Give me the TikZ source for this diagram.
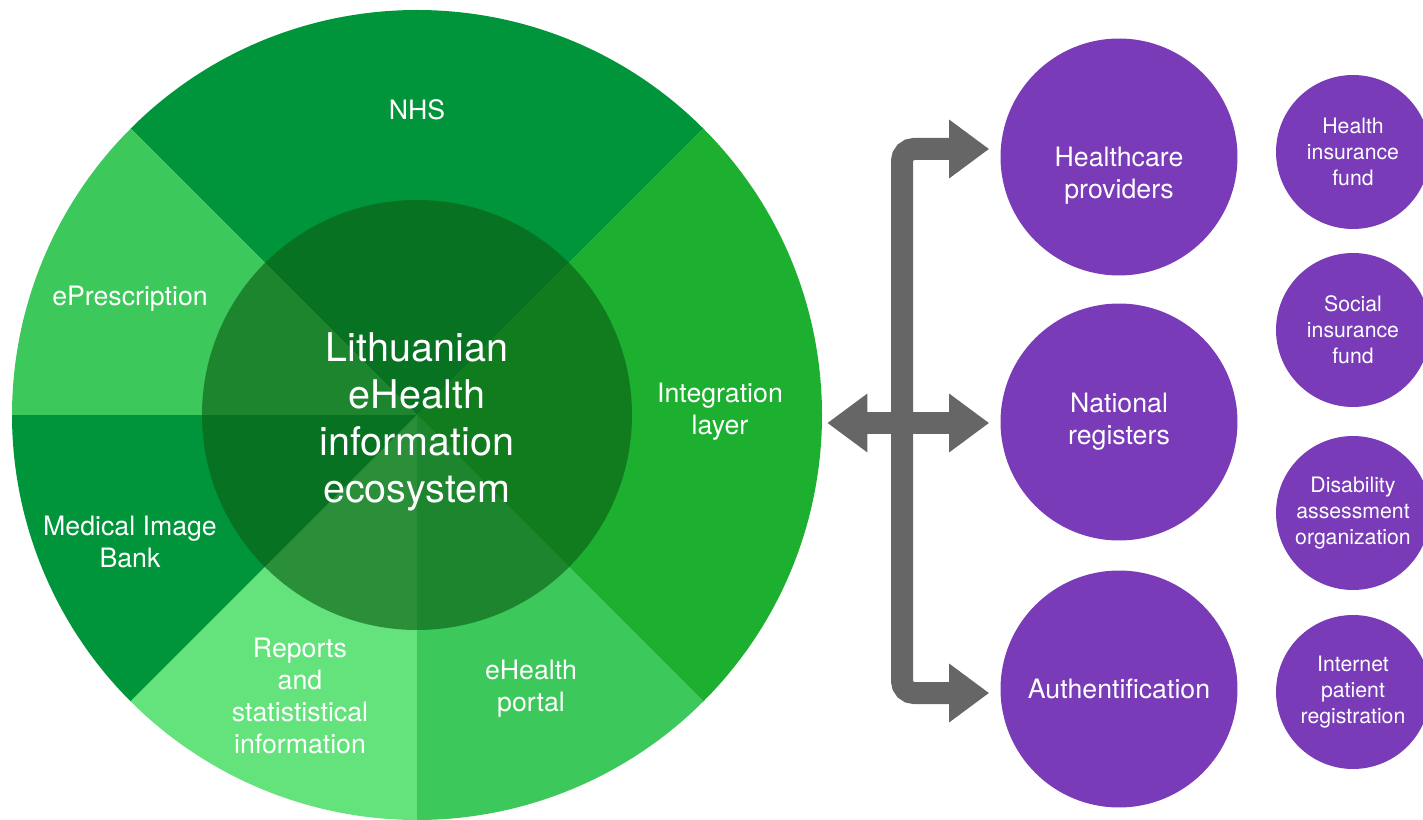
\documentclass[tikz,border=0pt]{standalone}
\usepackage{fontspec}
\setmainfont{TeX Gyre Heros}
\usepackage{tikz}
\usetikzlibrary{arrows.meta}
\definecolor{nhsgreen}{RGB}{0,149,58}
\definecolor{rxgreen}{RGB}{60,200,90}
\definecolor{repgreen}{RGB}{100,227,125}
\definecolor{intgreen}{RGB}{29,176,48}
\definecolor{coregreen}{RGB}{11,95,20}
\definecolor{regpurple}{RGB}{121,59,183}
\definecolor{arrowgray}{RGB}{102,102,102}

\begin{document}
\begin{tikzpicture}[x=0.02cm, y=0.02cm,
    lbl/.style={text=white, align=center, inner sep=0pt, font=\fontsize{15.2pt}{18.2pt}\selectfont},
    bigdot/.style={circle, fill=regpurple, minimum size=4.74cm, inner sep=0pt, lbl},
    smalldot/.style={circle, fill=regpurple, minimum size=3.08cm, inner sep=0pt, text=white, align=center, font=\fontsize{12.1pt}{14.8pt}\selectfont},
    bigtri/.tip={Triangle[length=0.8cm, width=1.12cm]},
    flow/.style={draw=arrowgray, line width=0.44cm, rounded corners=0.24cm, shorten >=0.22cm, -bigtri}]
\useasboundingbox (0,0) rectangle (1423,819);
\clip (0,0) rectangle (1423,819);
% ring
\node[circle, minimum size=16.2cm, inner sep=0pt] (ring) at (417,404) {};
\foreach \a/\b/\c in {45/135/nhsgreen, 135/180/rxgreen, 180/225/nhsgreen, 225/270/repgreen, 270/315/rxgreen, 315/405/intgreen}
  \fill[\c] (ring.center) -- ++(\a:405) arc[start angle=\a, end angle=\b, radius=405] -- cycle;
% core
\fill[coregreen, opacity=0.63] (ring.center) circle[radius=215];
\node[lbl, font=\fontsize{22.5pt}{26.7pt}\selectfont] (core) at (417,397) {Lithuanian\\eHealth\\information\\ecosystem};
% sectors
\node[lbl] (nhs) at (417,709) {NHS};
\node[lbl] (epres) at (130,520) {ePrescription};
\node[lbl] (mib) at (130,277) {Medical Image\\Bank};
\node[lbl] (reps) at (300,123) {Reports\\and\\statististical\\information};
\node[lbl] (portal) at (531,130) {eHealth\\portal};
\node[lbl] (integ) at (720,407) {Integration\\layer};
% users
\node[bigdot] (hcp) at (1119,662) {};
\node[lbl] (hcptext) at (1119,643) {Healthcare\\providers};
\node[bigdot] (nreg) at (1119,397) {National\\registers};
\node[bigdot] (auth) at (1119,130) {Authentification};
% institutions
\node[smalldot] (hif) at (1353,667) {Health\\insurance\\fund};
\node[smalldot] (sif) at (1353,489) {Social\\insurance\\fund};
\node[smalldot] (dao) at (1353,306) {Disability\\assessment\\organization};
\node[smalldot] (ipr) at (1353,127) {Internet\\patient\\registration};
% exchange arrows
\coordinate (ringedge) at ([xshift=0.1cm]ring.east);
\coordinate (hub) at (902,396);
\draw[flow, bigtri-bigtri] (ringedge |- hub) -- (hub -| nreg.west);
\draw[flow] (hub) |- ([yshift=0.16cm]hcp.west);
\draw[flow] (hub) |- ([yshift=-0.08cm]auth.west);
\end{tikzpicture}
\end{document}
